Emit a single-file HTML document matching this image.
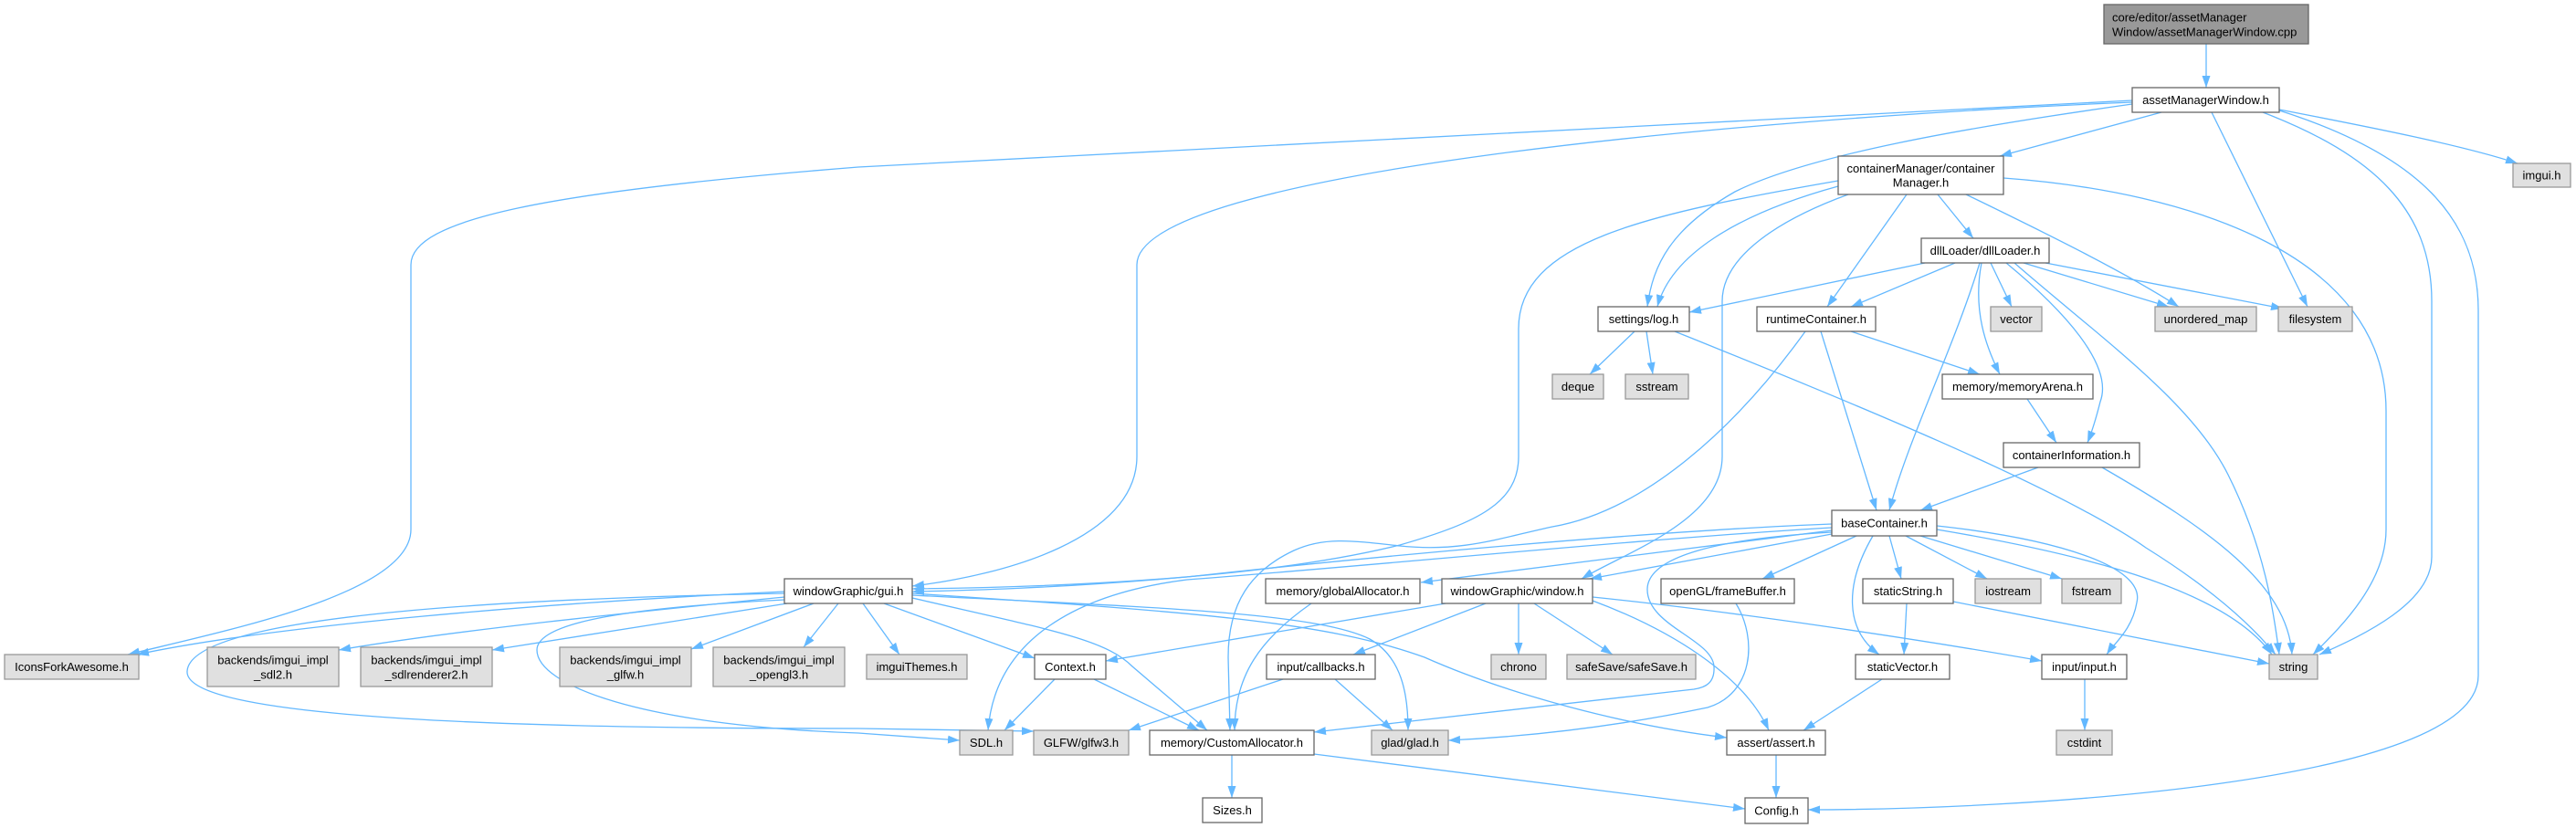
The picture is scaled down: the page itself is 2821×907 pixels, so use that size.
<!DOCTYPE html>
<html><head><meta charset="utf-8"><style>
html,body{margin:0;padding:0;background:#fff;}
svg{display:block;}
text{font-family:"Liberation Sans",Arial,sans-serif;font-size:13px;fill:#000;}
.e{fill:none;stroke:#63b8ff;stroke-width:1.3;}
.w{fill:#fff;stroke:#666;stroke-width:1.3;}
.g{fill:#e0e0e0;stroke:#999;stroke-width:1.3;}
.d{fill:#999;stroke:#666;stroke-width:1.3;}
</style></head><body>
<svg width="2821" height="907" viewBox="0 0 2821 907" xmlns="http://www.w3.org/2000/svg">
<defs><marker id="a" markerUnits="userSpaceOnUse" markerWidth="13" markerHeight="10" viewBox="0 0 13 10" refX="13" refY="5" orient="auto"><path d="M0,0.5 L13,5 L0,9.5 z" fill="#63b8ff"/></marker></defs>
<g class="e" marker-end="url(#a)">
<path d="M2416,48 L2416,96"/>
<path d="M2367,123 L2190,171"/>
<path d="M2496,120 C2600,140 2700,160 2757,179"/>
<path d="M2422,123 L2527,336"/>
<path d="M2478,123 C2600,170 2663,230 2663,330 L2663,610 C2663,660 2590,695 2540,717"/>
<path d="M2496,121 C2650,170 2714,240 2714,340 L2714,740 C2714,860 2200,887 1980,887"/>
<path d="M2335,114 C2150,140 1980,170 1900,210 C1830,250 1810,290 1804,336"/>
<path d="M2335,112 C1900,130 1245,190 1245,290 L1245,500 C1245,590 1100,630 999,642"/>
<path d="M2335,110 L940,183 C600,210 450,240 450,290 L450,580 C450,650 250,690 140,717"/>
<path d="M2013,204 C1900,235 1830,280 1815,336"/>
<path d="M2013,198 C1800,235 1663,265 1663,360 L1663,500 C1663,550 1620,572 1533,597 C1420,625 1250,642 999,645"/>
<path d="M2024,213 C1950,240 1886,280 1886,330 L1886,500 C1886,570 1780,605 1732,634"/>
<path d="M2088,213 L2001,336"/>
<path d="M2122,213 L2161,261"/>
<path d="M2153,213 C2250,260 2330,300 2386,336"/>
<path d="M2194,195 C2400,210 2613,280 2613,450 L2613,580 C2613,640 2560,690 2533,717"/>
<path d="M2108,288 L1850,342"/>
<path d="M2141,288 L2027,336"/>
<path d="M2168,288 C2140,380 2090,480 2069,559"/>
<path d="M2180,288 L2203,336"/>
<path d="M2170,288 C2160,340 2175,380 2190,410"/>
<path d="M2197,288 C2260,340 2315,400 2300,440 C2295,460 2290,475 2286,485"/>
<path d="M2206,288 C2300,370 2400,440 2440,520 C2480,600 2490,670 2496,717"/>
<path d="M2216,288 L2375,336"/>
<path d="M2240,288 L2500,338"/>
<path d="M1790,363 L1741,410"/>
<path d="M1803,363 L1810,410"/>
<path d="M1834,363 C2000,430 2250,530 2350,600 C2430,650 2470,690 2492,717"/>
<path d="M2027,363 L2168,410"/>
<path d="M1994,363 L2055,559"/>
<path d="M1977,363 C1900,470 1800,560 1700,577 C1640,590 1600,605 1533,598 C1480,592 1450,588 1417,603 C1370,625 1345,660 1345,720 L1347,800"/>
<path d="M2220,437 L2252,485"/>
<path d="M2232,512 L2103,559"/>
<path d="M2302,512 C2420,580 2505,640 2510,717"/>
<path d="M2006,574 C1800,582 1500,610 1300,632 C1150,645 1050,647 999,648"/>
<path d="M2006,578 C1800,590 1500,620 1300,635 C1180,650 1090,700 1082,800"/>
<path d="M2006,581 L1556,638"/>
<path d="M2006,585 L1741,634"/>
<path d="M2006,583 C1880,590 1805,610 1804,645 C1803,685 1875,700 1877,730 C1878,748 1868,753 1855,755 L1439,802"/>
<path d="M2033,587 L1930,634"/>
<path d="M2051,587 C2020,640 2020,690 2058,717"/>
<path d="M2069,587 L2082,634"/>
<path d="M2087,587 L2176,634"/>
<path d="M2103,587 L2258,634"/>
<path d="M2121,576 C2250,590 2350,620 2340,660 C2335,690 2315,705 2307,717"/>
<path d="M2121,580 C2300,610 2440,650 2488,717"/>
<path d="M859,648 C600,660 300,685 150,717"/>
<path d="M859,654 C700,670 500,690 371,712"/>
<path d="M862,661 L539,712"/>
<path d="M891,661 L757,711"/>
<path d="M918,661 L880,709"/>
<path d="M945,661 L985,717"/>
<path d="M968,661 L1133,721"/>
<path d="M999,655 C1150,690 1210,700 1240,730 L1322,800"/>
<path d="M999,652 C1250,665 1440,670 1500,700 C1535,720 1542,760 1542,800"/>
<path d="M999,650 C1300,670 1450,680 1560,720 C1650,760 1780,795 1891,808"/>
<path d="M859,650 C600,655 210,670 205,735 C200,790 600,798 940,798 L1132,801"/>
<path d="M859,657 C700,665 588,680 588,712 C588,750 700,795 940,803 L1051,811"/>
<path d="M1583,661 L1211,724"/>
<path d="M1627,661 L1482,717"/>
<path d="M1663,661 L1663,717"/>
<path d="M1680,661 L1766,717"/>
<path d="M1744,654 C1900,670 2100,700 2236,724"/>
<path d="M1744,658 C1830,690 1910,740 1937,800"/>
<path d="M1901,661 C1925,700 1920,760 1870,775 C1750,800 1650,808 1586,811"/>
<path d="M1155,744 L1100,800"/>
<path d="M1198,744 L1313,800"/>
<path d="M1405,744 L1236,800"/>
<path d="M1462,744 L1525,800"/>
<path d="M1436,661 C1380,700 1352,740 1352,800"/>
<path d="M1349,827 L1349,874"/>
<path d="M1439,826 L1911,886"/>
<path d="M1945,827 L1945,874"/>
<path d="M2061,744 L1975,800"/>
<path d="M2088,661 L2085,717"/>
<path d="M2139,659 L2485,727"/>
<path d="M2283,744 L2283,800"/>
</g>
<rect class="d" x="2304" y="5" width="224" height="43"/>
<text x="2313" y="23.5">core/editor/assetManager</text>
<text x="2313" y="39.5">Window/assetManagerWindow.cpp</text>
<g text-anchor="middle">
<rect class="w" x="2335" y="96" width="161" height="27"/><text x="2415.5" y="114">assetManagerWindow.h</text>
<rect class="g" x="2752" y="179" width="63" height="26"/><text x="2783.5" y="196.5">imgui.h</text>
<rect class="w" x="2013" y="171" width="181" height="42"/><text x="2103.5" y="189">containerManager/container</text><text x="2103.5" y="204.5">Manager.h</text>
<rect class="w" x="2104" y="261" width="140" height="27"/><text x="2174" y="279">dllLoader/dllLoader.h</text>
<rect class="w" x="1750" y="336" width="100" height="27"/><text x="1800" y="354">settings/log.h</text>
<rect class="w" x="1924" y="336" width="130" height="27"/><text x="1989" y="354">runtimeContainer.h</text>
<rect class="g" x="2180" y="336" width="56" height="27"/><text x="2208" y="354">vector</text>
<rect class="g" x="2360" y="336" width="111" height="27"/><text x="2415.5" y="354">unordered_map</text>
<rect class="g" x="2495" y="336" width="81" height="27"/><text x="2535.5" y="354">filesystem</text>
<rect class="g" x="1700" y="410" width="56" height="27"/><text x="1728" y="428">deque</text>
<rect class="g" x="1780" y="410" width="69" height="27"/><text x="1814.5" y="428">sstream</text>
<rect class="w" x="2127" y="410" width="165" height="27"/><text x="2209.5" y="428">memory/memoryArena.h</text>
<rect class="w" x="2194" y="485" width="149" height="27"/><text x="2268.5" y="503">containerInformation.h</text>
<rect class="w" x="2006" y="559" width="115" height="28"/><text x="2063.5" y="577.5">baseContainer.h</text>
<rect class="w" x="859" y="634" width="140" height="27"/><text x="929" y="652">windowGraphic/gui.h</text>
<rect class="w" x="1386" y="634" width="169" height="27"/><text x="1470.5" y="652">memory/globalAllocator.h</text>
<rect class="w" x="1579" y="634" width="165" height="27"/><text x="1661.5" y="652">windowGraphic/window.h</text>
<rect class="w" x="1819" y="634" width="146" height="27"/><text x="1892" y="652">openGL/frameBuffer.h</text>
<rect class="w" x="2040" y="634" width="99" height="27"/><text x="2089.5" y="652">staticString.h</text>
<rect class="g" x="2163" y="634" width="72" height="27"/><text x="2199" y="652">iostream</text>
<rect class="g" x="2258" y="634" width="65" height="27"/><text x="2290.5" y="652">fstream</text>
<rect class="g" x="5" y="717" width="147" height="27"/><text x="78.5" y="735">IconsForkAwesome.h</text>
<rect class="g" x="227" y="709" width="144" height="43"/><text x="299" y="727.5">backends/imgui_impl</text><text x="299" y="743.5">_sdl2.h</text>
<rect class="g" x="395" y="709" width="144" height="43"/><text x="467" y="727.5">backends/imgui_impl</text><text x="467" y="743.5">_sdlrenderer2.h</text>
<rect class="g" x="613" y="709" width="144" height="43"/><text x="685" y="727.5">backends/imgui_impl</text><text x="685" y="743.5">_glfw.h</text>
<rect class="g" x="781" y="709" width="144" height="43"/><text x="853" y="727.5">backends/imgui_impl</text><text x="853" y="743.5">_opengl3.h</text>
<rect class="g" x="949" y="717" width="110" height="27"/><text x="1004" y="735">imguiThemes.h</text>
<rect class="w" x="1133" y="717" width="78" height="27"/><text x="1172" y="735">Context.h</text>
<rect class="w" x="1387" y="717" width="119" height="27"/><text x="1446.5" y="735">input/callbacks.h</text>
<rect class="g" x="1633" y="717" width="60" height="27"/><text x="1663" y="735">chrono</text>
<rect class="g" x="1716" y="717" width="141" height="27"/><text x="1786.5" y="735">safeSave/safeSave.h</text>
<rect class="w" x="2032" y="717" width="103" height="27"/><text x="2083.5" y="735">staticVector.h</text>
<rect class="w" x="2236" y="717" width="93" height="27"/><text x="2282.5" y="735">input/input.h</text>
<rect class="g" x="2485" y="717" width="53" height="27"/><text x="2511.5" y="735">string</text>
<rect class="g" x="1051" y="800" width="58" height="27"/><text x="1080" y="818">SDL.h</text>
<rect class="g" x="1132" y="800" width="104" height="27"/><text x="1184" y="818">GLFW/glfw3.h</text>
<rect class="w" x="1259" y="800" width="180" height="27"/><text x="1349" y="818">memory/CustomAllocator.h</text>
<rect class="g" x="1502" y="800" width="84" height="27"/><text x="1544" y="818">glad/glad.h</text>
<rect class="w" x="1891" y="800" width="108" height="27"/><text x="1945" y="818">assert/assert.h</text>
<rect class="g" x="2252" y="800" width="61" height="27"/><text x="2282.5" y="818">cstdint</text>
<rect class="w" x="1317" y="874" width="65" height="27"/><text x="1349.5" y="892">Sizes.h</text>
<rect class="w" x="1911" y="874" width="69" height="28"/><text x="1945.5" y="892.5">Config.h</text>
</g>
</svg>
</body></html>
